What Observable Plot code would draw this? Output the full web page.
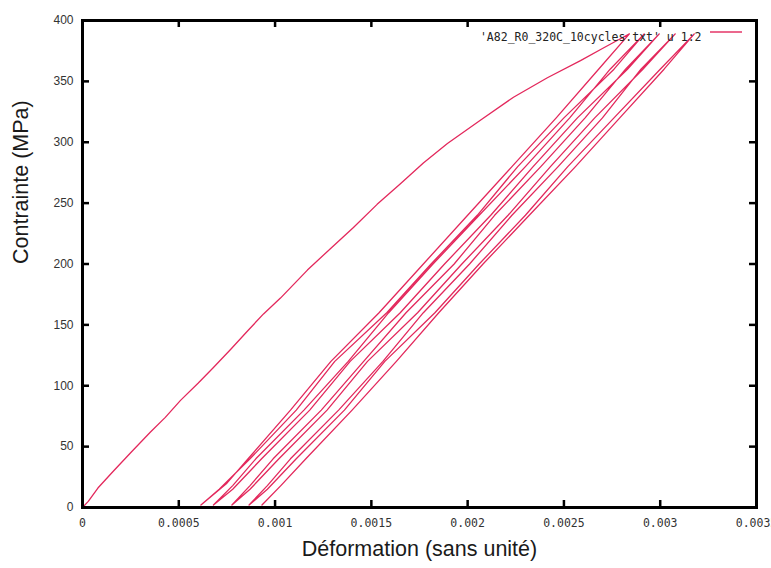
<!DOCTYPE html>
<html>
<head>
<meta charset="utf-8">
<script src="https://cdn.jsdelivr.net/npm/d3@7"></script>
<script src="https://cdn.jsdelivr.net/npm/@observablehq/plot@0.6"></script>
<style>
  html, body { margin: 0; padding: 0; background: #fff; overflow: hidden; }
</style>
</head>
<body>
<div id="chart"></div>
<script>
// Tick values
const xTicks = [0, 0.0005, 0.001, 0.0015, 0.002, 0.0025, 0.003, 0.0035];
const yTicks = [0, 50, 100, 150, 200, 250, 300, 350, 400];

// First loading curve: [strain, stress MPa]
const loading = [
  [0, 0], [0.00003, 5], [0.00008, 16], [0.000161, 30], [0.00025, 45], [0.000353, 62],
  [0.00043, 74], [0.000509, 88], [0.00060, 102], [0.00068, 115], [0.00077, 130],
  [0.000857, 145], [0.00094, 159], [0.001028, 172], [0.001168, 195], [0.00129, 213],
  [0.001407, 230], [0.00153, 249], [0.001651, 266], [0.00177, 283], [0.001895, 299],
  [0.002066, 318], [0.002238, 337], [0.002414, 353], [0.002586, 367], [0.00270, 377],
  [0.002793, 385], [0.00284, 389]
];

// Unloading / reloading segments, [strain, stress]
const unload1 = [[0.00284,389],[0.00268,360],[0.00246,320],[0.00223,280],[0.00200,240],[0.00177,200],[0.00154,160],[0.00129,120],[0.00108,80],[0.00086,40],[0.00075,20],[0.000615,2]];
const reload1 = [[0.000615,2],[0.00071,15],[0.00087,40],[0.00111,80],[0.00131,120],[0.00158,160],[0.00181,200],[0.00205,240],[0.00226,280],[0.00250,320],[0.00276,360],[0.002917,389]];
const unload2 = [[0.002917,389],[0.00274,360],[0.00253,320],[0.00230,280],[0.00206,240],[0.00182,200],[0.00159,160],[0.00138,120],[0.00115,80],[0.00090,40],[0.00078,18],[0.00068,2]];
const reload2 = [[0.00068,2],[0.00078,15],[0.00093,40],[0.00118,80],[0.00139,120],[0.00165,160],[0.00188,200],[0.00212,240],[0.00234,280],[0.00257,320],[0.00283,360],[0.002995,389]];
const unload3 = [[0.002995,389],[0.00282,360],[0.00261,320],[0.00238,280],[0.00214,240],[0.00193,200],[0.00168,160],[0.00146,120],[0.00124,80],[0.00099,40],[0.00087,18],[0.000776,2]];
const reload3 = [[0.000776,2],[0.00087,15],[0.00102,40],[0.00127,80],[0.00148,120],[0.00174,160],[0.00197,200],[0.00221,240],[0.00243,280],[0.00266,320],[0.00291,360],[0.003078,389]];
const unload4 = [[0.003078,389],[0.00290,360],[0.00270,320],[0.00247,280],[0.00223,240],[0.00201,200],[0.00177,160],[0.00156,120],[0.00133,80],[0.00108,40],[0.00096,18],[0.000865,2]];
const reload4 = [[0.000865,2],[0.00096,15],[0.00111,40],[0.00136,80],[0.00157,120],[0.00183,160],[0.00206,200],[0.00230,240],[0.00252,280],[0.00276,320],[0.00300,360],[0.003177,389]];
const unload5 = [[0.003177,389],[0.00302,360],[0.00279,320],[0.00256,280],[0.00232,240],[0.00208,200],[0.00185,160],[0.00163,120],[0.00140,80],[0.00116,40],[0.00103,18],[0.000932,2]];

const legendLabel = "'A82_R0_320C_10cycles.txt' u 1:2";
const xTitle = "Déformation (sans unité)";
const yTitle = "Contrainte (MPa)";

const path = [].concat(loading, unload1.slice(1), reload1.slice(1), unload2.slice(1), reload2.slice(1),
  unload3.slice(1), reload3.slice(1), unload4.slice(1), reload4.slice(1), unload5.slice(1));

const lineColor = "#e3285c";

const W = 771, H = 568, mL = 82, mR = 15, mT = 20, mB = 61;
const plotW = W - mL - mR, plotH = H - mT - mB, tick = 7;
const innerX = xTicks.slice(1, -1), innerY = yTicks.slice(1, -1);

const chart = Plot.plot({
  width: W,
  height: H,
  marginLeft: mL,
  marginRight: mR,
  marginTop: mT,
  marginBottom: mB,
  x: {domain: [0, 0.0035], axis: null},
  y: {domain: [0, 400], axis: null},
  marks: [
    Plot.line(path, {x: d => d[0], y: d => d[1], stroke: lineColor, strokeWidth: 1.3, curve: "linear"}),
    Plot.frame({stroke: "#000", strokeWidth: 3}),
    // inward ticks on all four sides
    Plot.ruleX(innerX, {x: d => d, insetTop: plotH - tick, stroke: "#000", strokeWidth: 2.5}),
    Plot.ruleX(innerX, {x: d => d, insetBottom: plotH - tick, stroke: "#000", strokeWidth: 2.5}),
    Plot.ruleY(innerY, {y: d => d, insetRight: plotW - tick, stroke: "#000", strokeWidth: 2.5}),
    Plot.ruleY(innerY, {y: d => d, insetLeft: plotW - tick, stroke: "#000", strokeWidth: 2.5}),
    // tick labels
    Plot.axisX({ticks: xTicks, tickSize: 0, tickPadding: 11, tickFormat: d => String(d),
      fontFamily: "DejaVu Sans Mono", fontSize: 11.5, fill: "#333", label: null}),
    Plot.axisY({ticks: yTicks, tickSize: 0, tickPadding: 9, tickFormat: d => String(d),
      fontFamily: "Liberation Sans", fontSize: 12, fill: "#333", label: null}),
    Plot.text([legendLabel], {frameAnchor: "top-right", dx: -55, dy: 12, textAnchor: "end",
      fontFamily: "DejaVu Sans Mono", fontSize: 11.5, fill: "#222"}),
    Plot.text([xTitle], {frameAnchor: "bottom", dy: 48, fontFamily: "Liberation Sans", fontSize: 21.5, fill: "#1a1a1a"}),
    Plot.text([yTitle], {frameAnchor: "left", rotate: -90, dx: -61, dy: 0, fontFamily: "Liberation Sans", fontSize: 21.5, fill: "#1a1a1a"})
  ]
});

document.getElementById("chart").appendChild(chart);
// Legend sample line next to the legend text
d3.select(chart).append("line")
  .attr("x1", W - mR - 46).attr("x2", W - mR - 14)
  .attr("y1", 32).attr("y2", 32)
  .attr("stroke", lineColor).attr("stroke-width", 1.4);
</script>
</body>
</html>
